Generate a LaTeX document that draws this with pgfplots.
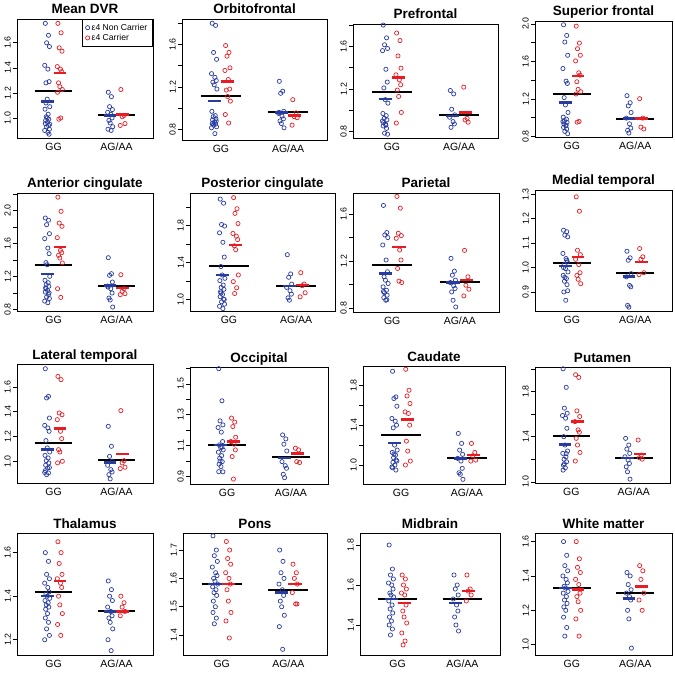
\documentclass[border=0pt]{standalone}
\usepackage{fontspec}
\setmainfont{Liberation Sans}
\usepackage{pgfplots}
\pgfplotsset{compat=1.18}
\definecolor{cb}{RGB}{40,60,160}
\definecolor{cr}{RGB}{232,28,36}
\pgfplotsset{
  strip/.style n args={4}{scale only axis, anchor=north west, at={(#1pt,-#2pt)},
    width=#3pt, height=#4pt,
    xmin=0.42, xmax=2.58, xtick={1,2}, xticklabels={GG,AG/AA},
    xtick style={draw=none},
    xticklabel style={font=\fontsize{10.5}{12}\selectfont, anchor=north, inner sep=0pt},
    xticklabel shift=4.5pt,
    ytick pos=left,
    ytick align=outside, ytick style={line width=0.6pt, black}, major tick length=4pt,
    yticklabel style={font=\fontsize{8.8}{10}\selectfont, rotate=90, anchor=south, inner sep=0pt},
    yticklabel shift=2pt,
    axis line style={line width=0.8pt},
    every axis title shift=0pt,
    title style={font=\fontsize{13.5}{15}\selectfont\bfseries, at={(0.5,1)}, anchor=base, yshift=5pt},
  },
  bpt/.style={only marks, mark=o, mark size=2.1pt, color=cb, mark options={line width=0.7pt}},
  rpt/.style={only marks, mark=o, mark size=2.1pt, color=cr, mark options={line width=0.7pt}},
}
% group means: blue GG, red GG, all GG, blue AG, red AG, all AG
\newcommand\means[6]{%
  \addplot[forget plot, black, line width=2pt] coordinates {(0.7,#3) (1.3,#3)};
  \addplot[forget plot, cb, line width=2.5pt] coordinates {(0.8,#1) (1.0,#1)};
  \addplot[forget plot, cr, line width=2.5pt] coordinates {(1.0,#2) (1.2,#2)};
  \addplot[forget plot, black, line width=2pt] coordinates {(1.7,#6) (2.3,#6)};
  \addplot[forget plot, cb, line width=2.5pt] coordinates {(1.8,#4) (2.0,#4)};
  \addplot[forget plot, cr, line width=2.5pt] coordinates {(2.0,#5) (2.2,#5)};
}
\begin{document}
\begin{tikzpicture}
\path[use as bounding box] (0,0) rectangle (675pt,-674pt);

% ---------- row 1
\begin{axis}[strip={17}{19}{136}{119}, title={Mean DVR}, ymin=0.84, ymax=1.79,
  ytick={1.0,1.2,1.4,1.6}, yticklabels={1.0,1.2,1.4,1.6},
  legend style={at={(1,1)}, anchor=north east, font=\fontsize{8.6}{9.5}\selectfont,
    draw=black, line width=0.6pt, inner xsep=3.5pt, inner ysep=2.5pt, row sep=-1.5pt},
  legend cell align=left,
  legend image code/.code={\draw[#1] plot coordinates {(0.12cm,0cm)};}]
\addplot[bpt] coordinates {(0.87,1.755)(0.92,1.66)(0.89,1.6)(0.935,1.57)(0.86,1.42)(0.91,1.39)(0.93,1.29)(0.88,1.28)(0.90,1.15)(0.94,1.09)(0.865,1.07)(0.915,1.03)(0.885,1.01)(0.925,0.99)(0.875,0.98)(0.905,0.965)(0.87,0.955)(0.92,0.94)(0.89,0.93)(0.935,0.91)(0.86,0.9)(0.91,0.885)(0.93,0.87)(0.88,1.12)(0.90,1.0)(0.94,0.95)
  (1.87,1.205)(1.92,1.17)(1.89,1.09)(1.935,1.067)(1.86,1.045)(1.91,1.03)(1.93,1.0)(1.88,0.98)(1.90,0.96)(1.94,0.93)(1.865,0.91)(1.915,0.9)};
\addlegendentry{ε4 Non Carrier}
\addplot[rpt] coordinates {(1.07,1.755)(1.12,1.68)(1.09,1.56)(1.135,1.533)(1.06,1.41)(1.11,1.39)(1.13,1.37)(1.08,1.28)(1.10,1.25)(1.14,1.227)(1.065,1.205)(1.115,1.0)(1.085,0.99)
  (2.07,1.227)(2.12,1.02)(2.09,1.01)(2.135,0.955)(2.06,0.94)};
\addlegendentry{ε4 Carrier}
\means{1.133}{1.36}{1.213}{1.02}{1.027}{1.02}
\end{axis}

\begin{axis}[strip={182}{19}{145}{121}, title={Orbitofrontal}, ymin=0.70, ymax=1.84,
  ytick={0.8,1.0,1.2,1.4,1.6,1.8}, yticklabels={0.8,,1.2,,1.6,}]
\addplot[bpt] coordinates {(0.87,1.80)(0.92,1.78)(0.89,1.525)(0.935,1.46)(0.86,1.325)(0.91,1.29)(0.93,1.26)(0.88,1.245)(0.90,1.22)(0.94,1.18)(0.865,0.97)(0.915,0.93)(0.885,0.92)(0.925,0.90)(0.875,0.89)(0.905,0.87)(0.87,0.855)(0.92,0.85)(0.89,0.84)(0.935,0.825)(0.86,0.815)(0.91,0.76)(0.93,0.88)(0.88,0.86)
  (1.87,1.253)(1.92,1.16)(1.89,1.14)(1.935,0.97)(1.86,0.95)(1.91,0.925)(1.93,0.90)(1.88,0.88)(1.90,0.855)(1.94,0.815)(1.865,0.96)};
\addplot[rpt] coordinates {(1.07,1.59)(1.12,1.525)(1.09,1.49)(1.135,1.38)(1.06,1.355)(1.11,1.27)(1.13,1.18)(1.08,1.17)(1.10,1.11)(1.14,1.066)(1.065,0.94)(1.115,0.86)
  (2.07,1.08)(2.12,0.956)(2.09,0.92)(2.135,0.91)(2.06,0.84)};
\means{1.066}{1.253}{1.119}{0.96}{0.93}{0.96}
\end{axis}

\begin{axis}[strip={353}{24}{145}{114}, title={Prefrontal}, ymin=0.74, ymax=1.81,
  ytick={0.8,1.0,1.2,1.4,1.6,1.8}, yticklabels={0.8,,1.2,,1.6,}]
\addplot[bpt] coordinates {(0.87,1.80)(0.92,1.68)(0.89,1.615)(0.935,1.58)(0.86,1.56)(0.91,1.385)(0.93,1.265)(0.88,1.21)(0.90,1.10)(0.94,1.067)(0.865,0.97)(0.915,0.95)(0.885,0.925)(0.925,0.91)(0.875,0.885)(0.905,0.87)(0.87,0.853)(0.92,0.83)(0.89,0.785)(0.935,0.775)(0.86,0.90)(0.91,0.86)
  (1.87,1.186)(1.92,1.154)(1.89,1.01)(1.935,0.957)(1.86,0.935)(1.91,0.894)(1.93,0.872)(1.88,0.84)};
\addplot[rpt] coordinates {(1.07,1.725)(1.12,1.655)(1.09,1.51)(1.135,1.395)(1.06,1.333)(1.11,1.286)(1.13,1.24)(1.08,1.19)(1.10,1.13)(1.14,0.98)(1.065,0.88)
  (2.07,1.217)(2.12,0.925)(2.09,0.91)(2.135,0.888)};
\means{1.104}{1.31}{1.176}{0.947}{0.98}{0.954}
\end{axis}

\begin{axis}[strip={535}{21}{137}{116}, title={Superior frontal}, ymin=0.795, ymax=2.03,
  ytick={0.8,1.0,1.2,1.4,1.6,1.8,2.0}, yticklabels={0.8,,1.2,,1.6,,2.0}]
\addplot[bpt] coordinates {(0.87,1.99)(0.92,1.876)(0.89,1.806)(0.935,1.665)(0.86,1.524)(0.91,1.39)(0.93,1.365)(0.88,1.214)(0.90,1.137)(0.94,1.056)(0.865,1.006)(0.915,0.985)(0.885,0.97)(0.925,0.95)(0.875,0.935)(0.905,0.915)(0.87,0.897)(0.92,0.88)(0.89,0.855)(0.935,0.83)(0.86,0.96)(0.91,0.92)
  (1.87,1.235)(1.92,1.16)(1.89,1.126)(1.935,1.056)(1.86,0.996)(1.91,0.935)(1.93,0.89)(1.88,0.866)(1.90,0.837)};
\addplot[rpt] coordinates {(1.07,1.975)(1.12,1.795)(1.09,1.735)(1.135,1.665)(1.06,1.605)(1.11,1.478)(1.13,1.453)(1.08,1.383)(1.10,1.302)(1.14,1.277)(1.065,1.253)(1.115,0.96)(1.085,0.953)
  (2.07,1.203)(2.12,0.996)(2.09,0.9)(2.135,0.88)};
\means{1.16}{1.443}{1.253}{0.99}{0.99}{0.99}
\end{axis}

% ---------- row 2
\begin{axis}[strip={17}{193}{136}{118}, title={Anterior cingulate}, ymin=0.78, ymax=2.21,
  ytick={0.8,1.0,1.2,1.4,1.6,1.8,2.0,2.2}, yticklabels={0.8,,1.2,,1.6,,2.0,}]
\addplot[bpt] coordinates {(0.87,1.907)(0.92,1.88)(0.89,1.826)(0.935,1.717)(0.86,1.657)(0.91,1.543)(0.93,1.475)(0.88,1.366)(0.90,1.341)(0.94,1.2)(0.865,1.152)(0.915,1.123)(0.885,1.1)(0.925,1.08)(0.875,1.06)(0.905,1.03)(0.87,1.01)(0.92,0.98)(0.89,0.95)(0.935,0.93)(0.86,0.9)(0.91,0.88)(0.93,1.0)(0.88,1.05)
  (1.87,1.426)(1.92,1.232)(1.89,1.212)(1.935,1.131)(1.86,1.083)(1.91,1.05)(1.93,0.998)(1.88,0.937)(1.90,0.913)(1.94,0.828)(1.865,1.07)};
\addplot[rpt] coordinates {(1.07,2.16)(1.12,1.988)(1.09,1.846)(1.135,1.806)(1.06,1.669)(1.11,1.515)(1.13,1.487)(1.08,1.455)(1.10,1.422)(1.14,1.362)(1.065,1.05)(1.115,0.945)
  (2.07,1.22)(2.12,1.05)(2.09,1.018)(2.135,0.99)(2.06,0.978)};
\means{1.228}{1.556}{1.341}{1.09}{1.059}{1.079}
\end{axis}

\begin{axis}[strip={190}{193}{145}{118}, title={Posterior cingulate}, ymin=0.876, ymax=2.15,
  ytick={1.0,1.2,1.4,1.6,1.8,2.0}, yticklabels={1.0,,1.4,,1.8,}]
\addplot[bpt] coordinates {(0.87,2.084)(0.92,2.04)(0.89,1.81)(0.935,1.793)(0.86,1.72)(0.91,1.618)(0.93,1.458)(0.88,1.356)(0.90,1.265)(0.94,1.229)(0.865,1.204)(0.915,1.156)(0.885,1.13)(0.925,1.11)(0.875,1.084)(0.905,1.055)(0.87,1.03)(0.92,1.004)(0.89,0.975)(0.935,0.95)(0.86,0.927)(0.91,0.902)(0.93,1.0)(0.88,1.07)
  (1.87,1.484)(1.92,1.276)(1.89,1.24)(1.935,1.167)(1.86,1.131)(1.91,1.095)(1.93,1.058)(1.88,1.018)(1.90,0.993)};
\addplot[rpt] coordinates {(1.07,2.10)(1.12,1.98)(1.09,1.93)(1.135,1.82)(1.06,1.713)(1.11,1.684)(1.13,1.647)(1.08,1.58)(1.10,1.538)(1.14,1.265)(1.065,1.193)(1.115,1.127)(1.085,1.065)
  (2.07,1.29)(2.12,1.167)(2.09,1.149)(2.135,1.073)(2.06,1.029)};
\means{1.262}{1.589}{1.364}{1.145}{1.156}{1.145}
\end{axis}

\begin{axis}[strip={353}{193}{146}{119}, title={Parietal}, ymin=0.766, ymax=1.78,
  ytick={0.8,1.0,1.2,1.4,1.6}, yticklabels={0.8,,1.2,,1.6}]
\addplot[bpt] coordinates {(0.87,1.674)(0.92,1.443)(0.89,1.423)(0.935,1.40)(0.86,1.337)(0.91,1.209)(0.93,1.109)(0.88,1.066)(0.90,1.037)(0.94,1.009)(0.865,0.98)(0.915,0.951)(0.885,0.931)(0.925,0.909)(0.875,0.889)(0.905,0.866)(0.87,0.94)(0.92,0.87)
  (1.87,1.223)(1.92,1.114)(1.89,1.08)(1.935,1.037)(1.86,1.017)(1.91,0.989)(1.93,0.966)(1.88,0.937)(1.90,0.866)(1.94,0.809)};
\addplot[rpt] coordinates {(1.07,1.751)(1.12,1.651)(1.09,1.437)(1.135,1.417)(1.06,1.394)(1.11,1.294)(1.13,1.209)(1.08,1.137)(1.10,1.029)(1.14,1.017)
  (2.07,1.291)(2.12,1.066)(2.09,0.994)(2.135,0.96)(2.06,0.903)};
\means{1.094}{1.32}{1.166}{1.017}{1.037}{1.023}
\end{axis}

\begin{axis}[strip={535}{190}{137}{121}, title={Medial temporal}, ymin=0.822, ymax=1.318,
  ytick={0.9,1.0,1.1,1.2,1.3}, yticklabels={0.9,1.0,1.1,1.2,1.3}]
\addplot[bpt] coordinates {(0.87,1.153)(0.92,1.147)(0.89,1.133)(0.935,1.126)(0.86,1.058)(0.91,1.037)(0.93,1.023)(0.88,1.012)(0.90,0.996)(0.94,0.982)(0.865,0.968)(0.915,0.955)(0.885,0.944)(0.925,0.93)(0.875,0.90)(0.905,0.866)(0.87,1.0)(0.92,1.03)(0.89,0.96)(0.935,0.905)
  (1.87,1.067)(1.92,1.04)(1.89,1.03)(1.935,0.975)(1.86,0.962)(1.91,0.927)(1.93,0.921)(1.88,0.845)(1.90,0.838)};
\addplot[rpt] coordinates {(1.07,1.29)(1.12,1.231)(1.09,1.071)(1.135,1.053)(1.06,1.034)(1.11,1.012)(1.13,0.979)(1.08,0.968)(1.10,0.952)(1.14,0.934)
  (2.07,1.078)(2.12,1.044)(2.09,1.034)(2.135,0.979)(2.06,0.971)};
\means{1.007}{1.044}{1.019}{0.964}{1.023}{0.979}
\end{axis}

% ---------- row 3
\begin{axis}[strip={17}{364}{136}{119}, title={Lateral temporal}, ymin=0.825, ymax=1.785,
  ytick={1.0,1.2,1.4,1.6}, yticklabels={1.0,1.2,1.4,1.6}]
\addplot[bpt] coordinates {(0.87,1.747)(0.92,1.524)(0.89,1.511)(0.935,1.349)(0.86,1.29)(0.91,1.269)(0.93,1.242)(0.88,1.167)(0.90,1.108)(0.94,1.075)(0.865,1.048)(0.915,1.027)(0.885,1.005)(0.925,0.987)(0.875,0.968)(0.905,0.946)(0.87,0.925)(0.92,0.906)(0.89,0.892)(0.935,0.95)(0.86,0.91)
  (1.87,1.282)(1.92,1.121)(1.89,1.04)(1.935,1.0)(1.86,0.968)(1.91,0.933)(1.93,0.914)(1.88,0.892)(1.90,0.858)};
\addplot[rpt] coordinates {(1.07,1.685)(1.12,1.659)(1.09,1.39)(1.135,1.376)(1.06,1.336)(1.11,1.242)(1.13,1.183)(1.08,1.094)(1.10,1.075)(1.14,1.0)(1.065,0.987)
  (2.07,1.409)(2.12,1.005)(2.09,0.987)(2.135,0.952)(2.06,0.941)};
\means{1.094}{1.263}{1.148}{0.992}{1.059}{1.011}
\end{axis}

\begin{axis}[strip={190}{367}{138}{117}, title={Occipital}, ymin=0.851, ymax=1.609,
  ytick={0.9,1.0,1.1,1.2,1.3,1.4,1.5,1.6}, yticklabels={0.9,,1.1,,1.3,,1.5,}]
\addplot[bpt] coordinates {(0.87,1.598)(0.92,1.39)(0.89,1.26)(0.935,1.234)(0.86,1.217)(0.91,1.187)(0.93,1.126)(0.88,1.104)(0.90,1.087)(0.94,1.072)(0.865,1.057)(0.915,1.035)(0.885,1.018)(0.925,0.996)(0.875,0.979)(0.905,0.964)(0.87,0.931)(0.92,1.09)(0.89,1.0)(0.935,0.93)
  (1.87,1.169)(1.92,1.143)(1.89,1.109)(1.935,1.065)(1.86,0.996)(1.91,0.97)(1.93,0.953)(1.88,0.914)(1.90,0.892)};
\addplot[rpt] coordinates {(1.07,1.278)(1.12,1.252)(1.09,1.223)(1.135,1.154)(1.06,1.126)(1.11,1.109)(1.13,1.072)(1.08,1.029)(1.10,0.883)
  (2.07,1.083)(2.12,1.072)(2.09,0.996)(2.135,0.99)};
\means{1.104}{1.126}{1.104}{1.018}{1.05}{1.024}
\end{axis}

\begin{axis}[strip={363}{366}{142}{118}, title={Caudate}, ymin=0.81, ymax=1.993,
  ytick={1.0,1.2,1.4,1.6,1.8}, yticklabels={1.0,,1.4,,1.8}]
\addplot[bpt] coordinates {(0.87,1.94)(0.92,1.683)(0.89,1.667)(0.935,1.59)(0.86,1.467)(0.91,1.44)(0.93,1.40)(0.88,1.373)(0.90,1.20)(0.94,1.15)(0.865,1.127)(0.915,1.10)(0.885,1.073)(0.925,1.05)(0.875,1.027)(0.905,1.0)(0.87,0.973)(0.92,0.95)(0.89,1.11)(0.935,1.04)(0.86,0.98)
  (1.87,1.317)(1.92,1.217)(1.89,1.15)(1.935,1.107)(1.86,1.067)(1.91,1.04)(1.93,0.967)(1.88,0.923)(1.90,0.907)(1.94,0.857)};
\addplot[rpt] coordinates {(1.07,1.96)(1.12,1.75)(1.09,1.693)(1.135,1.617)(1.06,1.533)(1.11,1.517)(1.13,1.40)(1.08,1.24)(1.10,1.14)(1.14,1.04)(1.065,1.0)
  (2.07,1.217)(2.12,1.127)(2.09,1.093)(2.135,1.05)(2.06,1.04)};
\means{1.223}{1.457}{1.30}{1.067}{1.10}{1.073}
\end{axis}

\begin{axis}[strip={535}{367}{135}{116}, title={Putamen}, ymin=0.99, ymax=2.016,
  ytick={1.0,1.2,1.4,1.6,1.8,2.0}, yticklabels={1.0,,1.4,,1.8,}]
\addplot[bpt] coordinates {(0.87,2.0)(0.92,1.836)(0.89,1.652)(0.935,1.607)(0.86,1.587)(0.91,1.563)(0.93,1.474)(0.88,1.40)(0.90,1.326)(0.94,1.273)(0.865,1.252)(0.915,1.222)(0.885,1.20)(0.925,1.178)(0.875,1.148)(0.905,1.124)(0.87,1.104)(0.92,1.25)(0.89,1.16)
  (1.87,1.385)(1.92,1.326)(1.89,1.29)(1.935,1.252)(1.86,1.222)(1.91,1.193)(1.93,1.163)(1.88,1.133)(1.90,1.089)(1.94,1.024)};
\addplot[rpt] coordinates {(1.07,1.948)(1.12,1.924)(1.09,1.628)(1.135,1.578)(1.06,1.533)(1.11,1.46)(1.13,1.439)(1.08,1.385)(1.10,1.326)(1.14,1.26)(1.065,1.184)
  (2.07,1.37)(2.12,1.237)(2.09,1.213)(2.135,1.201)};
\means{1.332}{1.533}{1.403}{1.213}{1.246}{1.213}
\end{axis}

% ---------- row 4
\begin{axis}[strip={17}{533}{136}{122}, title={Thalamus}, ymin=1.13, ymax=1.69,
  ytick={1.2,1.4,1.6}, yticklabels={1.2,1.4,1.6}]
\addplot[bpt] coordinates {(0.87,1.6)(0.92,1.56)(0.89,1.5)(0.935,1.48)(0.86,1.46)(0.91,1.44)(0.93,1.42)(0.88,1.41)(0.90,1.40)(0.94,1.39)(0.865,1.38)(0.915,1.37)(0.885,1.36)(0.925,1.35)(0.875,1.34)(0.905,1.32)(0.87,1.3)(0.92,1.28)(0.89,1.25)(0.935,1.22)(0.86,1.2)
  (1.87,1.47)(1.92,1.43)(1.89,1.4)(1.935,1.38)(1.86,1.35)(1.91,1.33)(1.93,1.31)(1.88,1.3)(1.90,1.28)(1.94,1.25)(1.865,1.2)(1.915,1.15)};
\addplot[rpt] coordinates {(1.07,1.65)(1.12,1.6)(1.09,1.55)(1.135,1.5)(1.06,1.48)(1.11,1.46)(1.13,1.44)(1.08,1.4)(1.10,1.36)(1.14,1.32)(1.065,1.27)(1.115,1.22)
  (2.07,1.4)(2.12,1.37)(2.09,1.35)(2.135,1.33)(2.06,1.31)};
\means{1.40}{1.47}{1.42}{1.33}{1.33}{1.33}
\end{axis}

\begin{axis}[strip={183}{533}{144}{122}, title={Pons}, ymin=1.33, ymax=1.76,
  ytick={1.4,1.5,1.6,1.7}, yticklabels={1.4,1.5,1.6,1.7}]
\addplot[bpt] coordinates {(0.87,1.75)(0.92,1.7)(0.89,1.68)(0.935,1.66)(0.86,1.64)(0.91,1.62)(0.93,1.61)(0.88,1.6)(0.90,1.59)(0.94,1.58)(0.865,1.57)(0.915,1.56)(0.885,1.55)(0.925,1.54)(0.875,1.52)(0.905,1.5)(0.87,1.48)(0.92,1.46)(0.89,1.44)
  (1.87,1.7)(1.92,1.66)(1.89,1.62)(1.935,1.6)(1.86,1.58)(1.91,1.56)(1.93,1.54)(1.88,1.52)(1.90,1.5)(1.94,1.47)(1.865,1.43)(1.915,1.35)};
\addplot[rpt] coordinates {(1.07,1.73)(1.12,1.7)(1.09,1.67)(1.135,1.65)(1.06,1.62)(1.11,1.6)(1.13,1.58)(1.08,1.56)(1.10,1.52)(1.14,1.48)(1.065,1.45)(1.115,1.39)
  (2.07,1.65)(2.12,1.62)(2.09,1.6)(2.135,1.58)(2.06,1.55)(2.11,1.51)(2.13,1.51)};
\means{1.58}{1.58}{1.58}{1.55}{1.58}{1.56}
\end{axis}

\begin{axis}[strip={360}{533}{140}{122}, title={Midbrain}, ymin=1.25, ymax=1.86,
  ytick={1.4,1.6,1.8}, yticklabels={1.4,1.6,1.8}]
\addplot[bpt] coordinates {(0.87,1.8)(0.92,1.68)(0.89,1.65)(0.935,1.63)(0.86,1.61)(0.91,1.6)(0.93,1.58)(0.88,1.56)(0.90,1.55)(0.94,1.54)(0.865,1.52)(0.915,1.5)(0.885,1.48)(0.925,1.46)(0.875,1.44)(0.905,1.42)(0.87,1.4)(0.92,1.38)(0.89,1.35)
  (1.87,1.65)(1.92,1.6)(1.89,1.58)(1.935,1.55)(1.86,1.53)(1.91,1.5)(1.93,1.47)(1.88,1.44)(1.90,1.4)(1.94,1.37)};
\addplot[rpt] coordinates {(1.07,1.65)(1.12,1.63)(1.09,1.6)(1.135,1.58)(1.06,1.56)(1.11,1.55)(1.13,1.5)(1.08,1.47)(1.10,1.44)(1.14,1.41)(1.065,1.36)(1.115,1.32)(1.085,1.3)
  (2.07,1.65)(2.12,1.58)(2.09,1.57)(2.135,1.55)(2.06,1.52)};
\means{1.53}{1.51}{1.53}{1.51}{1.57}{1.53}
\end{axis}

\begin{axis}[strip={535}{533}{137}{122}, title={White matter}, ymin=0.94, ymax=1.65,
  ytick={1.0,1.2,1.4,1.6}, yticklabels={1.0,1.2,1.4,1.6}]
\addplot[bpt] coordinates {(0.87,1.6)(0.92,1.52)(0.89,1.46)(0.935,1.43)(0.86,1.4)(0.91,1.38)(0.93,1.36)(0.88,1.34)(0.90,1.33)(0.94,1.31)(0.865,1.3)(0.915,1.28)(0.885,1.26)(0.925,1.24)(0.875,1.22)(0.905,1.2)(0.87,1.16)(0.92,1.1)(0.89,1.05)
  (1.87,1.42)(1.92,1.4)(1.89,1.35)(1.935,1.32)(1.86,1.3)(1.91,1.28)(1.93,1.26)(1.88,1.2)(1.90,1.15)(1.94,0.98)};
\addplot[rpt] coordinates {(1.07,1.6)(1.12,1.5)(1.09,1.45)(1.135,1.42)(1.06,1.38)(1.11,1.35)(1.13,1.3)(1.08,1.28)(1.10,1.25)(1.14,1.2)(1.065,1.15)(1.115,1.05)
  (2.07,1.46)(2.12,1.43)(2.09,1.38)(2.135,1.3)(2.06,1.26)(2.11,1.2)};
\means{1.33}{1.32}{1.33}{1.27}{1.34}{1.30}
\end{axis}
\end{tikzpicture}
\end{document}
